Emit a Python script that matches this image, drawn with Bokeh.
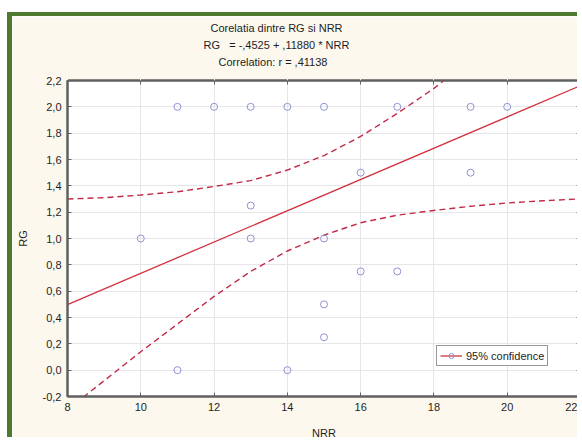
from bokeh.plotting import figure
from bokeh.models import FixedTicker, Legend, LegendItem, Title, LinearAxis
from bokeh.embed import file_html
from bokeh.resources import INLINE

# Observations: NRR (x) and RG (y)
nrr = [11, 12, 13, 14, 15, 17, 19, 20, 16, 19, 13, 10, 13, 15, 16, 17, 15, 15, 11, 14]
rg = [2.0, 2.0, 2.0, 2.0, 2.0, 2.0, 2.0, 2.0, 1.5, 1.5, 1.25, 1.0, 1.0, 1.0, 0.75, 0.75, 0.5, 0.25, 0.0, 0.0]

# Fitted regression RG = a + b * NRR
intercept = -0.4525
slope = 0.11880
corr_r = 0.41138

# 95% confidence band around the fit
band_x_upper = [8, 9, 10, 11, 12, 13, 14, 15, 16, 17, 18, 19]
band_upper = [1.30, 1.31, 1.33, 1.355, 1.395, 1.44, 1.52, 1.63, 1.775, 1.95, 2.14, 2.36]
band_x_lower = [8, 9, 10, 11, 12, 13, 14, 15, 16, 17, 18, 19, 20, 21, 22]
band_lower = [-0.30, -0.08, 0.14, 0.35, 0.56, 0.75, 0.905, 1.025, 1.12, 1.177, 1.213, 1.245, 1.27, 1.287, 1.301]

x_ticks = [8, 10, 12, 14, 16, 18, 20, 22]
y_ticks = [-0.2, 0.0, 0.2, 0.4, 0.6, 0.8, 1.0, 1.2, 1.4, 1.6, 1.8, 2.0, 2.2]
y_tick_labels = ["-0,2", "0,0", "0,2", "0,4", "0,6", "0,8", "1,0", "1,2", "1,4", "1,6", "1,8", "2,0", "2,2"]

title_lines = [
    "Corelatia dintre RG si NRR",
    "RG\u00a0\u00a0\u00a0= -,4525 + ,11880 * NRR",
    "Correlation: r = ,41138",
]

FONT = "Liberation Sans"
TEXT = "#1e1e1e"
CREAM = "#fcf8ee"
GREEN = "#4d7a2c"
FRAME = "#606060"

p = figure(width=570, height=425, x_range=(8, 22), y_range=(-0.2, 2.2),
           output_backend="svg", toolbar_location=None,
           min_border_left=55, min_border_right=2, min_border_top=64, min_border_bottom=43)
p.styles = {"margin-left": "7px", "margin-top": "12px",
            "border-left": f"5px solid {GREEN}", "border-top": f"4px solid {GREEN}"}
p.border_fill_color = CREAM
p.background_fill_color = "white"
p.outline_line_color = FRAME
p.outline_line_width = 2

xax = p.below[0]
yax = p.left[0]
xax.ticker = FixedTicker(ticks=x_ticks)
yax.ticker = FixedTicker(ticks=y_ticks)
yax.major_label_overrides = dict(zip(y_ticks, y_tick_labels))

for ax in (xax, yax):
    ax.axis_line_color = FRAME
    ax.axis_line_width = 2
    ax.major_tick_line_color = FRAME
    ax.major_tick_in = 4
    ax.major_tick_out = 0
    ax.minor_tick_line_color = None
    ax.major_label_text_font = FONT
    ax.major_label_text_font_size = "11px"
    ax.major_label_text_color = TEXT
    ax.major_label_standoff = 6
    ax.axis_label_text_font = FONT
    ax.axis_label_text_font_size = "11px"
    ax.axis_label_text_font_style = "normal"
    ax.axis_label_text_color = TEXT

xax.axis_label = "NRR"
xax.axis_label_standoff = 13
yax.axis_label = "RG"
yax.axis_label_standoff = 11

# Top axis: inward (minor) ticks on the frame, plus border-coloured outward
# major ticks that keep a gap between the frame and the title block
top = LinearAxis(ticker=FixedTicker(ticks=x_ticks, minor_ticks=x_ticks))
top.axis_line_color = FRAME
top.axis_line_width = 2
top.major_tick_line_color = CREAM
top.major_tick_in = 0
top.major_tick_out = 11
top.minor_tick_line_color = FRAME
top.minor_tick_in = 4
top.minor_tick_out = 0
top.major_label_text_color = None
top.major_label_standoff = 0
p.add_layout(top, "above")

# Right axis: inward ticks only
right = LinearAxis(ticker=FixedTicker(ticks=y_ticks))
right.axis_line_color = FRAME
right.axis_line_width = 2
right.major_tick_line_color = FRAME
right.major_tick_in = 4
right.major_tick_out = 0
right.minor_tick_line_color = None
right.major_label_text_color = None
right.major_label_standoff = 0
p.add_layout(right, "right")

p.grid.grid_line_color = "#e6e6ea"
p.grid.grid_line_width = 1

# Confidence band
p.line(band_x_upper, band_upper, line_color="#c32a48", line_width=1.4, line_dash="6 4")
p.line(band_x_lower, band_lower, line_color="#c32a48", line_width=1.4, line_dash="6 4")

# Regression line
fit_x = [8, 22]
fit_y = [intercept + slope * v for v in fit_x]
fit = p.line(fit_x, fit_y, line_color="#d2303c", line_width=1.3)

# Data points
pts = p.scatter(nrr, rg, marker="circle", size=7, fill_color=None,
                line_color="#8f93d2", line_width=1)

legend = Legend(items=[LegendItem(label="95% confidence", renderers=[fit, pts])],
                location=(369, 30), orientation="vertical")
legend.label_text_font = FONT
legend.label_text_font_size = "11px"
legend.label_text_color = TEXT
legend.border_line_color = "#333333"
legend.border_line_width = 1
legend.background_fill_color = "white"
legend.background_fill_alpha = 1
legend.padding = 3
legend.margin = 0
legend.spacing = 0
legend.glyph_width = 22
legend.glyph_height = 13
legend.label_height = 13
legend.label_standoff = 4
p.add_layout(legend, "center")

# Three-line title block, left-aligned with offsets so the lines share a centre
offsets = [143, 136, 151]
p.title.text = title_lines[0]
p.title.offset = offsets[0]
p.add_layout(Title(text=title_lines[2], offset=offsets[2]), "above")
p.add_layout(Title(text=title_lines[1], offset=offsets[1]), "above")
for t in [p.title] + [a for a in p.above if isinstance(a, Title)]:
    t.align = "left"
    t.text_font = FONT
    t.text_font_size = "11px"
    t.text_font_style = "normal"
    t.text_color = TEXT
    t.standoff = 3

open("out.html", "w").write(file_html(p, INLINE))
